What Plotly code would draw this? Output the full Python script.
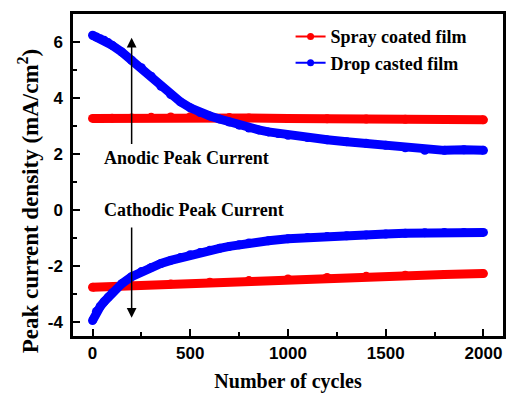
import plotly.graph_objects as go

# Anodic peak current (upper curves)
drop_anodic_x = [0, 20, 40, 60, 80, 100, 150, 200, 250, 300, 350, 400, 450, 500, 550, 600, 650, 700, 750, 800,
                 850, 900, 950, 1000, 1100, 1200, 1300, 1400, 1500, 1600, 1700, 1800, 1900, 2000]
drop_anodic_y = [6.24, 6.18, 6.12, 6.06, 5.98, 5.88, 5.64, 5.35, 5.08, 4.78, 4.42, 4.12, 3.86, 3.65, 3.48, 3.36,
                 3.25, 3.14, 3.03, 2.93, 2.86, 2.79, 2.73, 2.67, 2.59, 2.51, 2.44, 2.38, 2.31, 2.22, 2.13, 2.13,
                 2.15, 2.13]
spray_anodic_x = [0, 100, 200, 300, 400, 500, 600, 700, 800, 1000, 1200, 1400, 1600, 1800, 2000]
spray_anodic_y = [3.27, 3.28, 3.29, 3.31, 3.32, 3.33, 3.32, 3.30, 3.29, 3.27, 3.26, 3.25, 3.24, 3.23, 3.22]

# Cathodic peak current (lower curves)
drop_cathodic_x = [0, 20, 40, 60, 80, 100, 150, 200, 250, 300, 350, 400, 450, 500, 550, 600, 650, 700, 750, 800,
                   900, 1000, 1100, 1200, 1300, 1400, 1500, 1600, 1700, 1800, 1900, 2000]
drop_cathodic_y = [-3.95, -3.62, -3.44, -3.27, -3.11, -2.96, -2.63, -2.38, -2.2, -2.05, -1.91, -1.8, -1.7, -1.6,
                   -1.52, -1.44, -1.37, -1.3, -1.24, -1.18, -1.1, -1.03, -0.98, -0.95, -0.92, -0.89, -0.86, -0.83,
                   -0.81, -0.8, -0.8, -0.8]
spray_cathodic_x = [0, 200, 400, 600, 800, 1000, 1200, 1400, 1600, 1800, 2000]
spray_cathodic_y = [-2.76, -2.7, -2.64, -2.58, -2.52, -2.46, -2.41, -2.37, -2.33, -2.3, -2.27]

x_ticks = [0, 500, 1000, 1500, 2000]
y_ticks = [-4, -2, 0, 2, 4, 6]

RED = "#ff0000"
BLUE = "#0000ff"
SERIF = "Liberation Serif"
SANS = "Liberation Sans"

fig = go.Figure()

for xs, ys, c in [(spray_anodic_x, spray_anodic_y, RED), (spray_cathodic_x, spray_cathodic_y, RED),
                  (drop_anodic_x, drop_anodic_y, BLUE), (drop_cathodic_x, drop_cathodic_y, BLUE)]:
    fig.add_trace(go.Scatter(x=xs, y=ys, mode="lines+markers", showlegend=False,
                             line=dict(color=c, width=9), marker=dict(color=c, size=9)))

# legend entries
fig.add_trace(go.Scatter(x=[None], y=[None], mode="lines+markers", name="<b>Spray coated film</b>",
                         line=dict(color=RED, width=2), marker=dict(color=RED, size=7)))
fig.add_trace(go.Scatter(x=[None], y=[None], mode="lines+markers", name="<b>Drop casted film</b>",
                         line=dict(color=BLUE, width=2), marker=dict(color=BLUE, size=7)))

# arrows
fig.add_annotation(x=200, y=6.15, ax=200, ay=2.3, xref="x", yref="y", axref="x", ayref="y",
                   showarrow=True, arrowhead=2, arrowsize=1.3, arrowwidth=1.5, arrowcolor="black", text="")
fig.add_annotation(x=200, y=-3.85, ax=200, ay=-0.57, xref="x", yref="y", axref="x", ayref="y",
                   showarrow=True, arrowhead=2, arrowsize=1.3, arrowwidth=1.5, arrowcolor="black", text="")

fig.add_annotation(x=483, y=1.86, xref="x", yref="y", showarrow=False, text="<b>Anodic Peak Current</b>",
                   font=dict(family=SERIF, size=18, color="black"))
fig.add_annotation(x=519, y=0.0, xref="x", yref="y", showarrow=False, text="<b>Cathodic Peak Current</b>",
                   font=dict(family=SERIF, size=18, color="black"))

# y-axis title
fig.add_annotation(x=-0.104, y=0.419, xref="paper", yref="paper", xanchor="center", yanchor="middle",
                   showarrow=False, textangle=-90,
                   text="<b>Peak current density (mA/cm<sup>2</sup>)</b>",
                   font=dict(family=SERIF, size=23, color="black"))

axis_common = dict(showgrid=False, zeroline=False, showline=True, linecolor="black", linewidth=2.5,
                   mirror=True, ticks="inside", ticklen=7, tickwidth=2, tickcolor="black",
                   tickfont=dict(family=SANS, size=17, color="black"))

fig.update_xaxes(range=[-100, 2100], tickvals=x_ticks,
                 ticktext=[f"<b>{v}</b>" for v in x_ticks],
                 minor=dict(tickvals=[250, 750, 1250, 1750], ticklen=4, tickwidth=2, tickcolor="black", ticks="inside"),
                 title=dict(text="<b>Number of cycles</b>", font=dict(family=SERIF, size=20, color="black"), standoff=12),
                 **axis_common)
fig.update_yaxes(range=[-4.5, 7], tickvals=y_ticks,
                 ticktext=[f"<b>{v}</b>" for v in y_ticks],
                 minor=dict(tickvals=[-3, -1, 1, 3, 5], ticklen=4, tickwidth=2, tickcolor="black", ticks="inside"),
                 ticklabelstandoff=4,
                 **axis_common)

fig.update_layout(width=509, height=393, margin=dict(l=73, r=3, t=14, b=57),
                  plot_bgcolor="white", paper_bgcolor="white",
                  legend=dict(x=0.506, y=0.987, xanchor="left", yanchor="top", bgcolor="rgba(0,0,0,0)",
                              font=dict(family=SERIF, size=18, color="black"), tracegroupgap=0, itemwidth=30))

fig.write_html("out.html")
